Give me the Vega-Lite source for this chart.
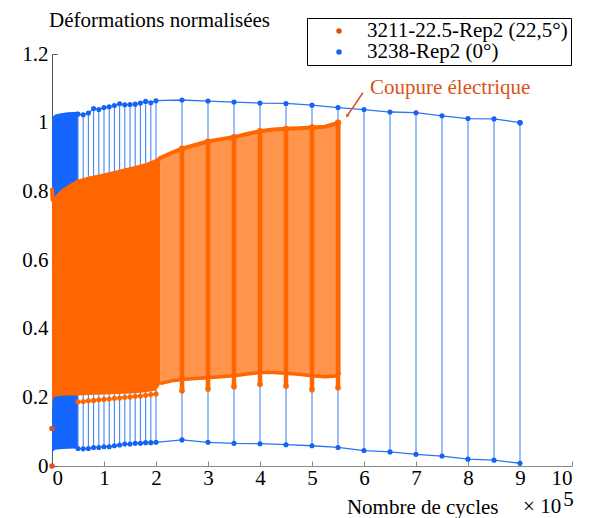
{
  "$schema": "https://vega.github.io/schema/vega-lite/v6.json",
  "width": 520,
  "height": 412,
  "autosize": "none",
  "padding": {"left": 52, "top": 54, "right": 22, "bottom": 52},
  "background": "white",
  "config": {
    "view": {"stroke": null},
    "font": "Liberation Serif, Times New Roman, serif",
    "text": {"font": "Liberation Serif, Times New Roman, serif"},
    "axis": {"grid": false, "labelFont": "Liberation Serif, Times New Roman, serif", "labelFontSize": 21, "labelColor": "#000", "tickSize": -5, "titleFont": "Liberation Serif, Times New Roman, serif", "titleFontSize": 21, "titleFontWeight": "normal", "titleColor": "#000"},
    "legend": {"labelFont": "Liberation Serif, Times New Roman, serif"}
  },
  "title": {"text": "Déformations normalisées", "anchor": "start", "frame": "group", "offset": -30, "dx": -3, "font": "Liberation Serif, Times New Roman, serif", "fontSize": 21, "fontWeight": "normal", "color": "#000", "baseline": "alphabetic"},
  "datasets": {
    "blueDense": [
      {"x": 0, "lo": 0.022, "hi": 0.965},
      {"x": 0.005, "lo": 0.035, "hi": 1.0},
      {"x": 0.02, "lo": 0.043, "hi": 1.018},
      {"x": 0.06, "lo": 0.047, "hi": 1.024},
      {"x": 0.15, "lo": 0.049, "hi": 1.027},
      {"x": 0.3, "lo": 0.05, "hi": 1.03},
      {"x": 0.5, "lo": 0.051, "hi": 1.032}
    ],
    "blueSparse": [
      {"x": 0.5, "lo": 0.051, "hi": 1.025},
      {"x": 0.6, "lo": 0.050, "hi": 1.023},
      {"x": 0.7, "lo": 0.051, "hi": 1.028},
      {"x": 0.8, "lo": 0.054, "hi": 1.041},
      {"x": 0.9, "lo": 0.054, "hi": 1.038},
      {"x": 1.0, "lo": 0.056, "hi": 1.044},
      {"x": 1.1, "lo": 0.056, "hi": 1.046},
      {"x": 1.2, "lo": 0.059, "hi": 1.050},
      {"x": 1.3, "lo": 0.061, "hi": 1.055},
      {"x": 1.4, "lo": 0.064, "hi": 1.052},
      {"x": 1.5, "lo": 0.064, "hi": 1.053},
      {"x": 1.6, "lo": 0.066, "hi": 1.054},
      {"x": 1.7, "lo": 0.066, "hi": 1.057},
      {"x": 1.8, "lo": 0.068, "hi": 1.062},
      {"x": 1.9, "lo": 0.068, "hi": 1.058},
      {"x": 2.0, "lo": 0.069, "hi": 1.064},
      {"x": 2.5, "lo": 0.076, "hi": 1.066},
      {"x": 3.0, "lo": 0.069, "hi": 1.063},
      {"x": 3.5, "lo": 0.066, "hi": 1.060},
      {"x": 4.0, "lo": 0.065, "hi": 1.057},
      {"x": 4.5, "lo": 0.062, "hi": 1.056},
      {"x": 5.0, "lo": 0.059, "hi": 1.051},
      {"x": 5.5, "lo": 0.054, "hi": 1.044},
      {"x": 6.0, "lo": 0.045, "hi": 1.038},
      {"x": 6.5, "lo": 0.041, "hi": 1.031},
      {"x": 7.0, "lo": 0.034, "hi": 1.029},
      {"x": 7.5, "lo": 0.029, "hi": 1.020},
      {"x": 8.0, "lo": 0.020, "hi": 1.012},
      {"x": 8.5, "lo": 0.017, "hi": 1.011},
      {"x": 9.0, "lo": 0.008, "hi": 1.000}
    ],
    "orange": [
      {"zone": "dense", "x": 0, "lo": 0.15, "hi": 0.81},
      {"zone": "dense", "x": 0.01, "lo": 0.19, "hi": 0.776},
      {"zone": "dense", "x": 0.03, "lo": 0.2, "hi": 0.772},
      {"zone": "dense", "x": 0.1, "lo": 0.203, "hi": 0.785},
      {"zone": "dense", "x": 0.2, "lo": 0.205, "hi": 0.8},
      {"zone": "dense", "x": 0.35, "lo": 0.205, "hi": 0.815},
      {"zone": "dense", "x": 0.5, "lo": 0.205, "hi": 0.828},
      {"zone": "dense", "x": 0.7, "lo": 0.207, "hi": 0.837},
      {"zone": "dense", "x": 1.0, "lo": 0.208, "hi": 0.846},
      {"zone": "dense", "x": 1.3, "lo": 0.21, "hi": 0.857},
      {"zone": "dense", "x": 1.6, "lo": 0.212, "hi": 0.868},
      {"zone": "dense", "x": 1.8, "lo": 0.215, "hi": 0.876},
      {"zone": "dense", "x": 2.0, "lo": 0.22, "hi": 0.888},
      {"zone": "dense", "x": 2.08, "lo": 0.238, "hi": 0.896},
      {"zone": "light", "x": 2.08, "lo": 0.24, "hi": 0.897},
      {"zone": "light", "x": 2.3, "lo": 0.248, "hi": 0.912},
      {"zone": "light", "x": 2.5, "lo": 0.252, "hi": 0.924},
      {"zone": "light", "x": 2.75, "lo": 0.255, "hi": 0.935},
      {"zone": "light", "x": 3.0, "lo": 0.257, "hi": 0.945},
      {"zone": "light", "x": 3.25, "lo": 0.26, "hi": 0.952},
      {"zone": "light", "x": 3.5, "lo": 0.263, "hi": 0.958},
      {"zone": "light", "x": 3.75, "lo": 0.268, "hi": 0.967},
      {"zone": "light", "x": 4.0, "lo": 0.272, "hi": 0.975},
      {"zone": "light", "x": 4.25, "lo": 0.272, "hi": 0.98},
      {"zone": "light", "x": 4.5, "lo": 0.27, "hi": 0.982},
      {"zone": "light", "x": 4.75, "lo": 0.267, "hi": 0.984},
      {"zone": "light", "x": 5.0, "lo": 0.263, "hi": 0.986},
      {"zone": "light", "x": 5.25, "lo": 0.26, "hi": 0.988},
      {"zone": "light", "x": 5.45, "lo": 0.262, "hi": 0.997},
      {"zone": "light", "x": 5.55, "lo": 0.272, "hi": 1.004}
    ],
    "orangeBands": [
      {"x": 2.5, "lo": 0.219, "hi": 0.924},
      {"x": 3.0, "lo": 0.224, "hi": 0.945},
      {"x": 3.5, "lo": 0.231, "hi": 0.958},
      {"x": 4.0, "lo": 0.238, "hi": 0.975},
      {"x": 4.5, "lo": 0.233, "hi": 0.982},
      {"x": 5.0, "lo": 0.222, "hi": 0.986},
      {"x": 5.5, "lo": 0.228, "hi": 1.0}
    ],
    "orangeLowDots": [
      {"x": 0.5, "y": 0.187}, {"x": 0.6, "y": 0.188}, {"x": 0.7, "y": 0.19}, {"x": 0.8, "y": 0.191},
      {"x": 0.9, "y": 0.193}, {"x": 1.0, "y": 0.194}, {"x": 1.1, "y": 0.195}, {"x": 1.2, "y": 0.197},
      {"x": 1.3, "y": 0.198}, {"x": 1.4, "y": 0.2}, {"x": 1.5, "y": 0.201}, {"x": 1.6, "y": 0.203},
      {"x": 1.7, "y": 0.204}, {"x": 1.8, "y": 0.206}, {"x": 1.9, "y": 0.208}, {"x": 2.0, "y": 0.21}
    ],
    "legendPts": [
      {"x": 0, "y": 0, "series": "3211-22.5-Rep2 (22,5°)"},
      {"x": 0, "y": 0.109, "series": "3211-22.5-Rep2 (22,5°)"},
      {"x": 9.0, "y": 1.0, "series": "3238-Rep2 (0°)"}
    ],
    "arrow": [{"x": 5.98, "y": 1.087, "x2": 5.667, "y2": 1.018}],
    "arrowHead": [{"x": 5.68, "y": 1.021}],
    "note": [{"x": 6.115, "y": 1.0837, "label": "Coupure électrique"}],
    "exponent": [
      {"x": 9.06, "y": -0.137, "label": "× 10"},
      {"x": 9.83, "y": -0.117, "label": "5"}
    ]
  },
  "layer": [
    {
      "data": {"name": "blueDense"},
      "mark": {"type": "area", "color": "#1466FF"},
      "encoding": {
        "x": {"field": "x", "type": "quantitative", "scale": {"domain": [0, 10], "nice": false, "zero": false},
          "axis": {"values": [0, 1, 2, 3, 4, 5, 6, 7, 8, 9, 10], "format": "d", "domainColor": "#8a8a8a", "tickColor": "#8a8a8a", "labelPadding": 6,
            "title": "Nombre de cycles", "titleX": 446, "titleY": 47, "titleAlign": "right", "titleBaseline": "alphabetic"}},
        "y": {"field": "lo", "type": "quantitative", "scale": {"domain": [0, 1.2], "nice": false, "zero": false},
          "axis": {"values": [0, 0.2, 0.4, 0.6, 0.8, 1, 1.2], "format": ".1~f", "domainColor": "#555", "tickColor": "#555", "labelPadding": 9, "title": null}},
        "y2": {"field": "hi"}
      }
    },
    {
      "data": {"name": "blueSparse"},
      "mark": {"type": "rule", "color": "#4A86EE", "strokeWidth": 1.1},
      "encoding": {"x": {"field": "x", "type": "quantitative"}, "y": {"field": "lo", "type": "quantitative"}, "y2": {"field": "hi"}}
    },
    {
      "data": {"name": "blueSparse"},
      "mark": {"type": "line", "color": "#2F73F0", "strokeWidth": 1.3},
      "encoding": {"x": {"field": "x", "type": "quantitative"}, "y": {"field": "hi", "type": "quantitative"}}
    },
    {
      "data": {"name": "blueSparse"},
      "mark": {"type": "line", "color": "#2F73F0", "strokeWidth": 1.3},
      "encoding": {"x": {"field": "x", "type": "quantitative"}, "y": {"field": "lo", "type": "quantitative"}}
    },
    {
      "data": {"name": "blueSparse"},
      "mark": {"type": "point", "filled": true, "color": "#1464F4", "size": 26, "opacity": 1},
      "encoding": {"x": {"field": "x", "type": "quantitative"}, "y": {"field": "hi", "type": "quantitative"}}
    },
    {
      "data": {"name": "blueSparse"},
      "mark": {"type": "point", "filled": true, "color": "#1464F4", "size": 26, "opacity": 1},
      "encoding": {"x": {"field": "x", "type": "quantitative"}, "y": {"field": "lo", "type": "quantitative"}}
    },
    {
      "data": {"name": "orange"},
      "transform": [{"filter": "datum.zone === 'dense'"}],
      "mark": {"type": "area", "color": "#FF6600"},
      "encoding": {"x": {"field": "x", "type": "quantitative"}, "y": {"field": "lo", "type": "quantitative"}, "y2": {"field": "hi"}}
    },
    {
      "data": {"name": "orange"},
      "transform": [{"filter": "datum.zone === 'light'"}],
      "mark": {"type": "area", "color": "#FF6600", "opacity": 0.7},
      "encoding": {"x": {"field": "x", "type": "quantitative"}, "y": {"field": "lo", "type": "quantitative"}, "y2": {"field": "hi"}}
    },
    {
      "data": {"name": "orangeBands"},
      "mark": {"type": "rule", "color": "#FF6600", "strokeWidth": 4.5},
      "encoding": {"x": {"field": "x", "type": "quantitative"}, "y": {"field": "lo", "type": "quantitative"}, "y2": {"field": "hi"}}
    },
    {
      "data": {"name": "orange"},
      "mark": {"type": "line", "color": "#FF6600", "strokeWidth": 4},
      "encoding": {"x": {"field": "x", "type": "quantitative"}, "y": {"field": "hi", "type": "quantitative"}}
    },
    {
      "data": {"name": "orange"},
      "transform": [{"filter": "datum.zone === 'light'"}],
      "mark": {"type": "line", "color": "#FF6600", "strokeWidth": 3.5},
      "encoding": {"x": {"field": "x", "type": "quantitative"}, "y": {"field": "lo", "type": "quantitative"}}
    },
    {
      "data": {"name": "orangeBands"},
      "mark": {"type": "point", "filled": true, "color": "#FF6600", "size": 32, "opacity": 1},
      "encoding": {"x": {"field": "x", "type": "quantitative"}, "y": {"field": "lo", "type": "quantitative"}}
    },
    {
      "data": {"name": "orangeBands"},
      "mark": {"type": "point", "filled": true, "color": "#FF6600", "size": 40, "opacity": 1},
      "encoding": {"x": {"field": "x", "type": "quantitative"}, "y": {"field": "hi", "type": "quantitative"}}
    },
    {
      "data": {"name": "orangeLowDots"},
      "mark": {"type": "line", "color": "#FF6600", "strokeWidth": 1.5, "point": {"filled": true, "size": 26, "color": "#FF6600"}},
      "encoding": {"x": {"field": "x", "type": "quantitative"}, "y": {"field": "y", "type": "quantitative"}}
    },
    {
      "data": {"name": "legendPts"},
      "mark": {"type": "point", "filled": true, "size": 30, "opacity": 1},
      "encoding": {
        "x": {"field": "x", "type": "quantitative"},
        "y": {"field": "y", "type": "quantitative"},
        "color": {"field": "series", "type": "nominal",
          "scale": {"domain": ["3211-22.5-Rep2 (22,5°)", "3238-Rep2 (0°)"], "range": ["#D95319", "#1464F4"]},
          "legend": {"orient": "none", "legendX": 255, "legendY": -36, "title": null, "strokeColor": "#000", "fillColor": "white",
            "padding": 2.5, "labelFont": "Liberation Serif, Times New Roman, serif", "labelFontSize": 21, "labelColor": "#000", "labelLimit": 400,
            "labelExpr": "datum.label + '\u00a0\u00a0'", "symbolSize": 30, "symbolType": "circle",
            "symbolOffset": 19, "labelOffset": 17.5, "rowPadding": -1.5}}
      }
    },
    {
      "data": {"name": "arrow"},
      "mark": {"type": "rule", "color": "#D95319", "strokeWidth": 1.5},
      "encoding": {"x": {"field": "x", "type": "quantitative"}, "y": {"field": "y", "type": "quantitative"}, "x2": {"field": "x2"}, "y2": {"field": "y2"}}
    },
    {
      "data": {"name": "arrowHead"},
      "mark": {"type": "point", "shape": "triangle", "angle": 215, "filled": true, "color": "#D95319", "size": 14, "opacity": 1},
      "encoding": {"x": {"field": "x", "type": "quantitative"}, "y": {"field": "y", "type": "quantitative"}}
    },
    {
      "data": {"name": "note"},
      "mark": {"type": "text", "align": "left", "baseline": "alphabetic", "font": "Liberation Serif, Times New Roman, serif", "fontSize": 21, "color": "#D95319"},
      "encoding": {"x": {"field": "x", "type": "quantitative"}, "y": {"field": "y", "type": "quantitative"}, "text": {"field": "label"}}
    },
    {
      "data": {"name": "exponent"},
      "mark": {"type": "text", "align": "left", "baseline": "alphabetic", "font": "Liberation Serif, Times New Roman, serif", "fontSize": 21, "color": "#000"},
      "encoding": {"x": {"field": "x", "type": "quantitative"}, "y": {"field": "y", "type": "quantitative"}, "text": {"field": "label"}}
    }
  ]
}
